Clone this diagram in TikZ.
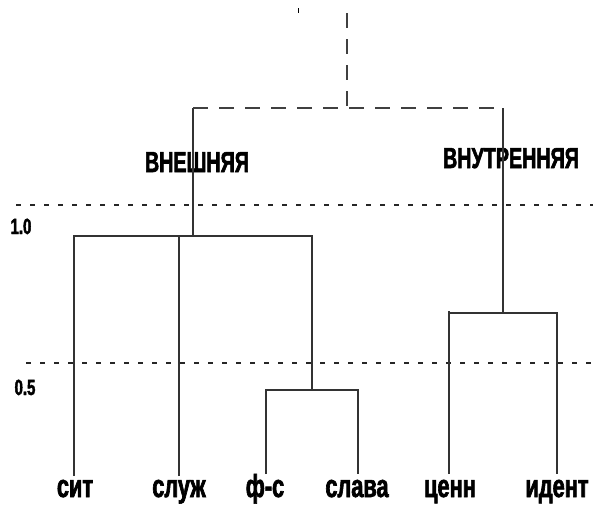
\documentclass[tikz,border=0pt]{standalone}
\usepackage{fontspec}
\newfontfamily\condf[FakeStretch=0.68,FakeBold=2,UprightFont={* Bold}]{Liberation Sans}
\begin{document}
\begin{tikzpicture}[x=1pt,y=-1pt,
  tree/.style={draw=black!80,line width=1.1pt},
  toplink/.style={draw=black!75,line width=1.3pt,dash pattern=on 15pt off 11pt},
  level/.style={draw=black!85,line width=1.1pt,dash pattern=on 5pt off 9pt},
  leaflabel/.style={font=\condf\fontsize{32}{32}\selectfont,anchor=base,inner sep=0pt},
  grouplabel/.style={font=\condf\fontsize{29}{29}\selectfont,anchor=base,inner sep=0pt},
  axislabel/.style={font=\condf\fontsize{22}{22}\selectfont,anchor=base,inner sep=0pt}]
\useasboundingbox (0,0) rectangle (593,504);
% labels
\node[leaflabel] (tsit) at (75,497) {сит};
\node[leaflabel] (tsluzh) at (179,497) {служ};
\node[leaflabel] (tfs) at (265,497) {ф-с};
\node[leaflabel] (tslava) at (357,497) {слава};
\node[leaflabel] (tcenn) at (450,497) {ценн};
\node[leaflabel] (tident) at (557,497) {идент};
\node[grouplabel] (gext) at (197,172) {ВНЕШНЯЯ};
\node[grouplabel] (gint) at (511,168) {ВНУТРЕННЯЯ};
\node[axislabel] (a10) at (21,234) {1.0};
\node[axislabel] (a05) at (25,395) {0.5};
% level lines
\coordinate (l1a) at (16,205); \coordinate (l1b) at (593,205);
\coordinate (l2a) at (26,363); \coordinate (l2b) at (593,363);
\draw[level] (l1a) -- (l1b);
\draw[level] (l2a) -- (l2b);
% leaf tops
\coordinate (esit) at (74,476);
\coordinate (esluzh) at (179,476);
\coordinate (efs) at (266,474);
\coordinate (eslava) at (358,474);
\coordinate (ecenn) at (449,474);
\coordinate (eident) at (557,474);
% merge points
\coordinate (mfs) at (266,390);
\coordinate (mslava) at (358,390);
\coordinate (msub) at (312,390);
\coordinate (lsit) at (74,236);
\coordinate (lsluzh) at (179,236);
\coordinate (lsub) at (312,236);
\coordinate (lroot) at (193,236);
\coordinate (rcenn) at (449,313);
\coordinate (rcenntop) at (449,311);
\coordinate (rident) at (557,313);
\coordinate (rroot) at (503,313);
\coordinate (tl) at (193,108);
\coordinate (tr) at (503,108);
\coordinate (tm) at (347,108);
\coordinate (ttop) at (347,13);
\coordinate (tick1) at (298,8);
\coordinate (tick2) at (298,13);
% tree
\draw[tree] (efs) -- (mfs) -- (mslava) -- (eslava);
\draw[tree] (esit) -- (lsit) -- (lsub) -- (msub);
\draw[tree] (esluzh) -- (lsluzh);
\draw[tree] (lroot) -- (tl);
\draw[tree] (ecenn) -- (rcenntop);
\draw[tree] (rcenn) -- (rident) -- (eident);
\draw[tree] (rroot) -- (tr);
\draw[toplink] (tl) -- (tr);
\draw[toplink] (ttop) -- (tm);
\draw[black,line width=1pt] (tick1) -- (tick2);
\end{tikzpicture}
\end{document}
